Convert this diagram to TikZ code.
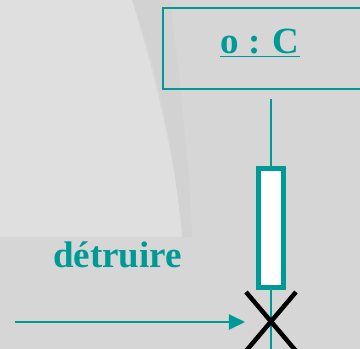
\documentclass[tikz,border=0pt]{standalone}
\usepackage{fontspec}
\setmainfont{Liberation Serif}
\usetikzlibrary{arrows.meta}
\definecolor{teal1}{HTML}{009A96}
\definecolor{bgdark}{HTML}{D6D6D6}
\definecolor{bgband}{HTML}{D2D2D2}
\definecolor{bglight}{HTML}{DFDFDF}
\tikzset{
  lbl/.style={text=teal1, font=\bfseries\fontsize{37}{40}\selectfont, inner sep=0pt},
  objbox/.style={draw=teal1, line width=2pt},
  actbox/.style={draw=teal1, fill=white, line width=5pt},
  lifeline/.style={draw=teal1, line width=2pt},
  msg/.style={draw=teal1, line width=2pt, -{Triangle[length=16pt,width=15pt]}},
  killx/.style={draw=black, line width=4.5pt}
}
\begin{document}
\begin{tikzpicture}[x=1pt,y=-1pt]
\useasboundingbox (0,0) rectangle (360,349);
\fill[bgdark] (0,0) rectangle (360,349);
\fill[bgband] (132,0) -- (170,0) .. controls (180,80) and (190,170) .. (192,237) -- (182,237) .. controls (176,170) and (162,80) .. (132,0) -- cycle;
\fill[bglight] (0,0) -- (132,0) .. controls (150,60) and (175,150) .. (182,237) -- (0,237) -- cycle;
% object box
\draw[objbox] (163,8) rectangle (362,89);
\node[lbl] (obj) at (260,43) {\underline{o : C}};
% lifeline
\coordinate (lltop) at (271,99);
\coordinate (llbot) at (271,351);
\draw[lifeline] (lltop) -- (llbot);
% activation
\draw[actbox] (258.5,168.5) rectangle (283.5,287.5);
% destruction X
\coordinate (x1) at (246,292);
\coordinate (x2) at (296,351);
\coordinate (x3) at (296,292);
\coordinate (x4) at (246,351);
\draw[killx] (x1) -- (x2);
\draw[killx] (x3) -- (x4);
% message
\coordinate (msgstart) at (15,322);
\coordinate (msgend) at (245,322);
\draw[msg] (msgstart) -- (msgend);
\node[lbl, anchor=base west] (lab) at (53,267) {détruire};
\end{tikzpicture}
\end{document}
